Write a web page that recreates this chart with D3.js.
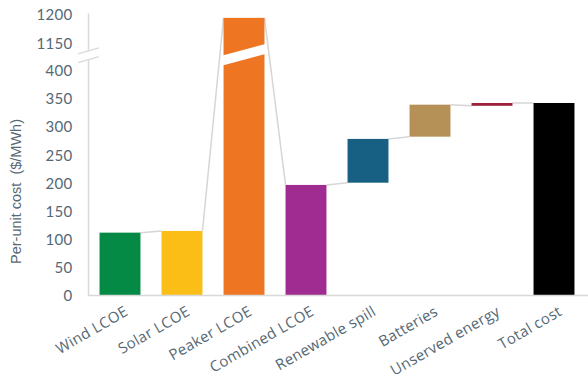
<!DOCTYPE html>
<html>
<head>
<meta charset="utf-8">
<script src="https://cdn.jsdelivr.net/npm/d3@7"></script>
<style>
  html, body { margin: 0; padding: 0; background: #fff; }
  svg { display: block; }
</style>
</head>
<body>
<svg id="chart" width="588" height="387"></svg>
<script>
// Cost stack, $/MWh
const categories = ["Wind LCOE", "Solar LCOE", "Peaker LCOE", "Combined LCOE",
                    "Renewable spill", "Batteries", "Unserved energy", "Total cost"];
const barBase = [0, 0, 0, 0, 201, 283, 338, 0];
const barTop  = [112, 115, 1195, 197, 279, 340, 343, 343];
const barColors = ["#058a45", "#fbbe17", "#ee7623", "#a02b91",
                   "#176084", "#b69157", "#9c2139", "#000000"];
const tickValues = [0, 50, 100, 150, 200, 250, 300, 350, 400, 1150, 1200];
const yLabel = "Per-unit cost  ($/MWh)";

const svg = d3.select("#chart");
const textColor = "#566875";
const gridGray = "#d9d9d9";

const x = d3.scaleBand()
  .domain(categories)
  .range([89, 585])
  .paddingInner(0.34)
  .paddingOuter(0.17);

// broken axis: 400 → 1150 is squeezed into one tick step
const y = d3.scaleLinear()
  .domain([0, 400, 1150, 1200])
  .range([295.5, 71, 43.5, 15]);

const axisX = 88.5;
const breakY = (y(400) + y(1150)) / 2 - 2;

const data = categories.map((c, i) => ({
  name: c, base: barBase[i], top: barTop[i], color: barColors[i]
}));

// connectors between consecutive bars
const links = d3.pairs(data).map(([a, b]) => ({
  x1: x(a.name) + x.bandwidth(), y1: y(a.top),
  x2: x(b.name), y2: y(b.base > 0 ? b.base : b.top)
}));
svg.append("g").selectAll("line").data(links).join("line")
  .attr("x1", d => d.x1).attr("y1", d => d.y1)
  .attr("x2", d => d.x2).attr("y2", d => d.y2)
  .attr("stroke", "#d6d6d6").attr("stroke-width", 1.5);

// bars
svg.append("g").selectAll("rect").data(data).join("rect")
  .attr("x", d => x(d.name))
  .attr("width", x.bandwidth())
  .attr("y", d => y(d.top))
  .attr("height", d => y(d.base) - y(d.top))
  .attr("fill", d => d.color);

// white slanted gap through bars crossing the break
data.filter(d => d.top > 400).forEach(d => {
  const x0 = x(d.name) - 1, x1 = x(d.name) + x.bandwidth() + 1;
  const cx = (x0 + x1) / 2, slope = -0.27, half = 5;
  const yc = breakY - 0.5;
  const ya = yc - slope * (cx - x0), yb = yc + slope * (x1 - cx);
  svg.append("polygon")
    .attr("points", [[x0, ya - half], [x1, yb - half], [x1, yb + half], [x0, ya + half]].join(" "))
    .attr("fill", "#fff");
});

// y axis line in two pieces
const gapHalf = 4.3;
svg.append("line").attr("x1", axisX).attr("x2", axisX)
  .attr("y1", 13.5).attr("y2", breakY - gapHalf)
  .attr("stroke", gridGray).attr("stroke-width", 1.5);
svg.append("line").attr("x1", axisX).attr("x2", axisX)
  .attr("y1", breakY + gapHalf).attr("y2", 296)
  .attr("stroke", gridGray).attr("stroke-width", 1.5);
// break marks
[-gapHalf, gapHalf].forEach(off => {
  svg.append("line")
    .attr("x1", axisX - 10.5).attr("y1", breakY + off + 3)
    .attr("x2", axisX + 10.5).attr("y2", breakY + off - 3)
    .attr("stroke", gridGray).attr("stroke-width", 1.3);
});

// x baseline
svg.append("line").attr("x1", axisX).attr("x2", 588)
  .attr("y1", 295.5).attr("y2", 295.5)
  .attr("stroke", gridGray).attr("stroke-width", 1.5);

// y ticks
const gy = svg.append("g")
  .attr("transform", `translate(${axisX},0)`)
  .call(d3.axisLeft(y).tickValues(tickValues).tickSize(0).tickPadding(16).tickFormat(d3.format("d")));
gy.select(".domain").remove();
gy.selectAll("text")
  .attr("fill", textColor)
  .style("font-family", "Lato, 'Open Sans', sans-serif")
  .style("font-size", "15px")
  .style("letter-spacing", "0.3px");

// x ticks
const gx = svg.append("g")
  .attr("transform", "translate(0,295.5)")
  .call(d3.axisBottom(x).tickSize(0));
gx.select(".domain").remove();
gx.selectAll("text")
  .attr("fill", textColor)
  .style("font-family", "'Open Sans', sans-serif")
  .style("font-size", "15px")
  .style("letter-spacing", "0.3px")
  .attr("text-anchor", "end")
  .attr("dy", 0)
  .attr("y", 0)
  .attr("transform", "translate(9,19) rotate(-30)");

// y label
svg.append("text")
  .attr("transform", "translate(21,191.5) rotate(-90)")
  .attr("text-anchor", "middle")
  .attr("fill", textColor)
  .style("font-family", "'Liberation Sans', Arial, sans-serif")
  .style("font-size", "14.5px")
  .style("white-space", "pre")
  .text(yLabel);
</script>
</body>
</html>
